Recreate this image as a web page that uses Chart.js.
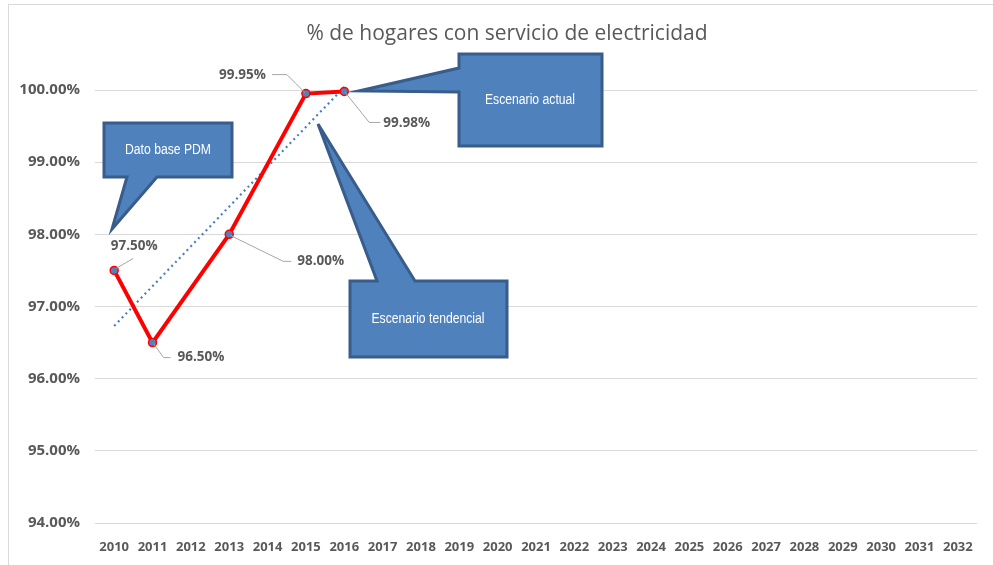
<!DOCTYPE html>
<html>
<head>
<meta charset="utf-8">
<script src="https://cdn.jsdelivr.net/npm/chart.js@4.4.0/dist/chart.umd.min.js"></script>
<style>
  html, body { margin: 0; padding: 0; background: #fff; overflow: hidden; }
  .frame { position: absolute; left: 8px; top: 4px; width: 1100px; height: 700px; border: 1px solid #d9d9d9; }
  .chart-box { position: absolute; left: 0; top: 0; width: 993px; height: 565px; }
</style>
</head>
<body>
<div class="frame"></div>
<div class="chart-box"><canvas id="chart" width="993" height="565"></canvas></div>
<script>
// data
const years = ["2010", "2011", "2012", "2013", "2014", "2015", "2016", "2017", "2018", "2019", "2020",
  "2021", "2022", "2023", "2024", "2025", "2026", "2027", "2028", "2029", "2030", "2031", "2032"];
const hogares = [97.5, 96.5, null, 98.0, null, 99.95, 99.98,
  null, null, null, null, null, null, null, null, null, null, null, null, null, null, null, null];
// linear trend line (Excel), endpoints as seen in the chart
const tendencia = [96.73, null, null, null, null, null, 100.04,
  null, null, null, null, null, null, null, null, null, null, null, null, null, null, null, null];
const yTicks = [94, 95, 96, 97, 98, 99, 100];
const chartTitle = "% de hogares con servicio de electricidad";

const labelGray = "#595959";
const calloutFill = "#4F81BD";
const calloutLine = "#385D8A";

// leader lines + label placement per point (pixel offsets from the point)
const labelLayout = {
  0: { path: [[2, -2], [19, -12]], at: [20, -24], align: "center" },
  1: { path: [[1, 1], [11, 15], [18, 15]], at: [25, 15], align: "left" },
  3: { path: [[1, 1], [54, 27], [62, 27]], at: [68, 27], align: "left" },
  5: { path: [[-1, -1], [-19, -19], [-34, -19]], at: [-40, -18], align: "right" },
  6: { path: [[1, 1], [25, 31], [36, 31]], at: [39, 32], align: "left" },
};

const pointLabels = {
  id: "pointLabels",
  afterDatasetsDraw(chart) {
    const ctx = chart.ctx;
    const meta = chart.getDatasetMeta(0);
    ctx.save();
    meta.data.forEach((pt, i) => {
      const cfg = labelLayout[i];
      if (!cfg || hogares[i] == null) return;
      ctx.strokeStyle = "#A6A6A6";
      ctx.lineWidth = 1;
      ctx.beginPath();
      cfg.path.forEach((p, k) => {
        if (k === 0) ctx.moveTo(pt.x + p[0], pt.y + p[1]);
        else ctx.lineTo(pt.x + p[0], pt.y + p[1]);
      });
      ctx.stroke();
      ctx.fillStyle = labelGray;
      ctx.font = "bold 13.5px 'Open Sans'";
      ctx.textAlign = cfg.align;
      ctx.textBaseline = "middle";
      ctx.fillText(hogares[i].toFixed(2) + "%", pt.x + cfg.at[0], pt.y + cfg.at[1]);
    });
    ctx.restore();
  },
};

// wedge-rectangle callouts (outline of box + pointer as one shape)
const callouts = [
  { text: "Dato base PDM", center: [168, 150],
    outline: [[104, 123], [232, 123], [232, 177], [157, 177], [112, 229], [127, 177], [104, 177]] },
  { text: "Escenario actual", center: [530, 100],
    outline: [[459, 54], [602, 54], [602, 146], [459, 146], [459, 92], [359, 91], [459, 68]] },
  { text: "Escenario tendencial", center: [428, 319],
    outline: [[350, 281], [377, 281], [318, 124], [415, 281], [507, 281], [507, 357], [350, 357]] },
];

const calloutPlugin = {
  id: "callouts",
  afterDraw(chart) {
    const ctx = chart.ctx;
    ctx.save();
    callouts.forEach((c) => {
      ctx.beginPath();
      c.outline.forEach((p, k) => (k === 0 ? ctx.moveTo(p[0], p[1]) : ctx.lineTo(p[0], p[1])));
      ctx.closePath();
      ctx.fillStyle = calloutFill;
      ctx.fill();
      ctx.strokeStyle = calloutLine;
      ctx.lineWidth = 3;
      ctx.lineJoin = "miter";
      ctx.stroke();
      ctx.save();
      ctx.translate(c.center[0], c.center[1]);
      ctx.scale(0.87, 1);
      ctx.fillStyle = "#ffffff";
      ctx.font = "14px 'Liberation Sans'";
      ctx.textAlign = "center";
      ctx.textBaseline = "middle";
      ctx.fillText(c.text, 0, 0);
      ctx.restore();
    });
    ctx.restore();
  },
};

const titlePlugin = {
  id: "titleText",
  afterDraw(chart) {
    const ctx = chart.ctx;
    ctx.save();
    ctx.fillStyle = labelGray;
    ctx.font = "21px 'Open Sans'";
    ctx.textAlign = "center";
    ctx.textBaseline = "middle";
    ctx.fillText(chartTitle, 507, 34);
    ctx.restore();
  },
};

new Chart(document.getElementById("chart"), {
  type: "line",
  data: {
    labels: years,
    datasets: [
      {
        label: "% hogares",
        data: hogares,
        spanGaps: true,
        borderColor: "#FF0000",
        borderWidth: 4,
        pointRadius: 4,
        pointBackgroundColor: "#4F81BD",
        pointBorderColor: "#FF0000",
        pointBorderWidth: 1.5,
        clip: false,
        order: 1,
      },
      {
        label: "Tendencia",
        data: tendencia,
        spanGaps: true,
        borderColor: "#4A7EC2",
        borderWidth: 2.2,
        borderDash: [2, 3.5],
        pointRadius: 0,
        clip: false,
        order: 2,
      },
    ],
  },
  options: {
    responsive: false,
    animation: false,
    layout: { padding: { top: 90, right: 16, bottom: 0, left: 0 } },
    plugins: {
      legend: { display: false },
      tooltip: { enabled: false },
    },
    scales: {
      x: {
        offset: true,
        grid: { display: false, drawTicks: false },
        border: { display: false },
        ticks: {
          autoSkip: false,
          maxRotation: 0,
          padding: 16,
          color: labelGray,
          font: { family: "'Open Sans'", size: 13, weight: "bold" },
        },
        afterFit(scale) { scale.height = 42; },
      },
      y: {
        min: yTicks[0],
        max: yTicks[yTicks.length - 1],
        afterBuildTicks(scale) { scale.ticks = yTicks.map((v) => ({ value: v })); },
        grid: { color: "#D9D9D9", lineWidth: 1, drawTicks: false },
        border: { display: false },
        ticks: {
          padding: 15,
          color: labelGray,
          font: { family: "'Open Sans'", size: 15, weight: "bold" },
          callback: (v) => Number(v).toFixed(2) + "%",
        },
        afterFit(scale) { scale.width = 95; },
      },
    },
  },
  plugins: [pointLabels, calloutPlugin, titlePlugin],
});
</script>
</body>
</html>
